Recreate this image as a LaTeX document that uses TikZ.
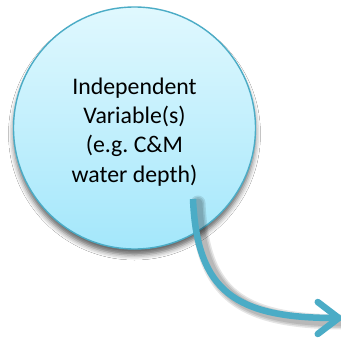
\documentclass[tikz,border=0pt]{standalone}
\usepackage{fontspec}
\setmainfont{Carlito}
\usetikzlibrary{arrows.meta,shadows.blur}
\definecolor{rimblue}{RGB}{75,172,198}
\definecolor{fillTop}{RGB}{224,248,254}
\definecolor{fillBottom}{RGB}{164,231,251}
\tikzset{
  bubble/.style={circle, draw=rimblue, line width=1.4pt, minimum size=242pt,
    inner sep=0pt, top color=fillTop, bottom color=fillBottom,
    blur shadow={shadow xshift=0pt, shadow yshift=-6pt, shadow blur radius=5pt,
      shadow opacity=60},
    align=center, font=\fontsize{23.8}{29.3}\selectfont\frenchspacing},
  flow/.style={rimblue, line width=6.5pt,
    -{Straight Barb[length=21pt, width=32pt, line cap=round, line join=round]}},
  flowshade/.style={black, line width=#1, opacity=0.1, line cap=round}
}
\begin{document}
\begin{tikzpicture}[x=1pt, y=-1pt]
  \useasboundingbox (0,0) rectangle (341,338);
  \fill[white] (0,0) rectangle (341,338);
  \node[bubble] (iv) at (134.5,128)
    {\rule{0pt}{24pt}Independent\\Variable(s)\\(e.g. C\&M\\water depth)};
  \coordinate (start) at (193,199);
  \coordinate (end) at (342,318);
  % soft shadow under the connector
  \foreach \w in {15pt,12pt,9pt}{
    \draw[flowshade=\w] ([shift={(5,4)}]start) .. controls ([shift={(5,4)}]197,292) and ([shift={(5,4)}]236,318) .. ([shift={(5,4)}]end);
  }
  \draw[flow] (start) .. controls (197,292) and (236,318) .. (end);
\end{tikzpicture}
\end{document}
